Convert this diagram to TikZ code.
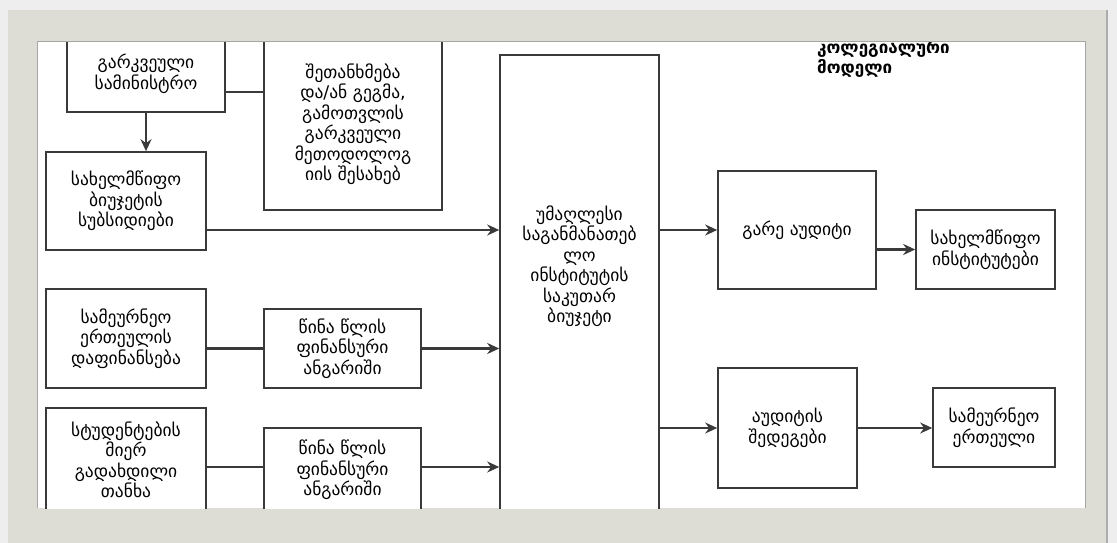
\documentclass[tikz,border=0pt]{standalone}
\usepackage{fontspec}
\usepackage{tikz}
\usetikzlibrary{arrows.meta}
\newfontfamily\geo{DejaVu Sans}
\definecolor{lineC}{RGB}{58,58,58}
\definecolor{frameC}{RGB}{221,220,213}
\definecolor{bgC}{RGB}{238,238,238}

\begin{document}
\begin{tikzpicture}[x=1pt, y=-1pt, every node/.style={font=\geo\fontsize{17.5}{20.5}\selectfont},
	box/.style={draw=lineC, line width=1.6pt, fill=white, align=center, inner sep=0pt},
	conn/.style={draw=lineC, line width=2.1pt},
	arr/.style={conn, -{Stealth[length=12pt,width=11pt]}}]
	\useasboundingbox (0,0) rectangle (1117,543);
	\fill[bgC] (0,0) rectangle (1117,543);
	\fill[frameC] (8,10) rectangle (1107,543);
	\draw[gray!65, line width=1.2pt] (1107,10) -- (1107,543);
	\fill[white] (37,42) rectangle (1085,508);
	\begin{scope}
	\clip (37,42) rectangle (1085,508);
	% left column
	\node[box, minimum width=158pt, minimum height=76pt] (mins) at (146,74) {გარკვეული\\სამინისტრო};
	\node[box, minimum width=178pt, minimum height=172pt] (agr) at (353,124) {შეთანხმება\\და/ან გეგმა,\\გამოთვლის\\გარკვეული\\მეთოდოლოგ\\იის შესახებ};
	\node[box, minimum width=160pt, minimum height=98pt] (subs) at (126,201) {სახელმწიფო\\ბიუჯეტის\\სუბსიდიები};
	\node[box, minimum width=160pt, minimum height=99pt] (econ) at (126,338.5) {სამეურნეო\\ერთეულის\\დაფინანსება};
	\node[box, minimum width=157pt, minimum height=79pt] (prev1) at (342.5,348.5) {წინა წლის\\ფინანსური\\ანგარიში};
	\node[box, minimum width=160pt, minimum height=104pt] (stud) at (126,460) {სტუდენტების\\მიერ\\გადახდილი\\თანხა};
	\node[box, minimum width=157pt, minimum height=84pt] (prev2) at (342.5,470) {წინა წლის\\ფინანსური\\ანგარიში};
	% middle
	\node[box, minimum width=159pt, minimum height=465pt] (big) at (579.5,287.5) {};
	\node[align=center] (bigtxt) at (579.5,266) {უმაღლესი\\საგანმანათებ\\ლო\\ინსტიტუტის\\საკუთარ\\ბიუჯეტი};
	% right
	\node[box, minimum width=158pt, minimum height=118pt] (gare) at (797,230) {გარე აუდიტი};
	\node[box, minimum width=139pt, minimum height=79pt] (inst) at (985.5,249.5) {სახელმწიფო\\ინსტიტუტები};
	\node[box, minimum width=139pt, minimum height=120pt] (res) at (787.5,428) {აუდიტის\\შედეგები};
	\node[box, minimum width=122pt, minimum height=79pt] (unit) at (994,427.5) {სამეურნეო\\ერთეული};
	\node[font=\geo\bfseries\fontsize{17}{20}\selectfont, align=left, anchor=north west, inner sep=0pt] (ttl) at (817,39) {კოლეგიალური\\მოდელი};
	% connectors
	\draw[arr] (mins.south) -- (mins.south |- subs.north);
	\draw[conn] ([yshift=-18pt]mins.east) -- ([yshift=-18pt]mins.east -| agr.west);
	\draw[arr] ([yshift=-29pt]subs.east) -- ([yshift=-29pt]subs.east -| big.west);
	\draw[conn] (econ.east |- prev1.west) -- (prev1.west);
	\draw[arr] (prev1.east) -- (prev1.east -| big.west);
	\draw[conn] ([yshift=3pt]prev2.west -| stud.east) -- ([yshift=3pt]prev2.west);
	\draw[arr] ([yshift=3pt]prev2.east) -- ([yshift=3pt]prev2.east -| big.west);
	\draw[arr] (gare.west -| big.east) -- (gare.west);
	\draw[arr] (inst.west -| gare.east) -- (inst.west);
	\draw[arr] (res.west -| big.east) -- (res.west);
	\draw[arr] (res.east) -- (res.east -| unit.west);
	\end{scope}
	\draw[gray!70, line width=1pt] (37,508) -- (37,42) -- (1085,42) -- (1085,508);
\end{tikzpicture}
\end{document}
